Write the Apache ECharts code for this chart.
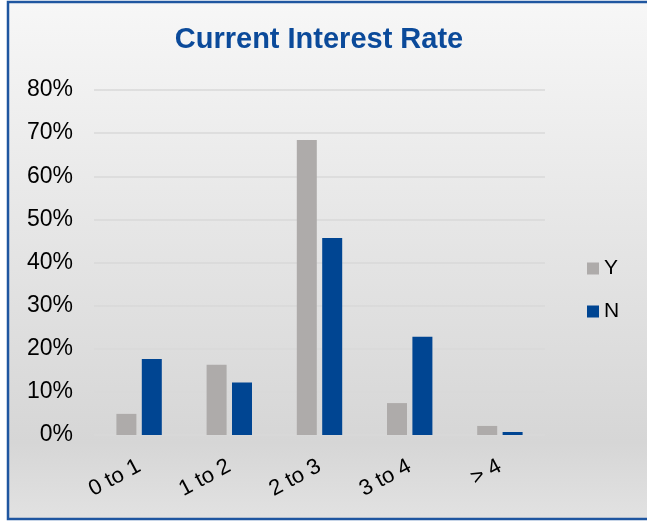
<!DOCTYPE html>
<html>
<head>
<meta charset="utf-8">
<script src="https://cdn.jsdelivr.net/npm/echarts@6/dist/echarts.min.js"></script>
<style>
html,body{margin:0;padding:0;background:#fff;}
#c{width:647px;height:527px;}
</style>
</head>
<body>
<div id="c"></div>
<script>
var categories = ['0 to 1', '1 to 2', '2 to 3', '3 to 4', '> 4'];
var seriesY = [0.049, 0.163, 0.684, 0.074, 0.021];
var seriesN = [0.176, 0.122, 0.457, 0.228, 0.007];
var yTicks = [0, 0.1, 0.2, 0.3, 0.4, 0.5, 0.6, 0.7, 0.8];

var chart = echarts.init(document.getElementById('c'), null, {renderer: 'canvas'});
var font = 'Liberation Sans, Arial, sans-serif';
chart.setOption({
  animation: false,
  backgroundColor: 'transparent',
  graphic: [{
    type: 'rect', z: -10, silent: true,
    shape: {x: 8, y: 2, width: 660, height: 517},
    style: {
      fill: new echarts.graphic.LinearGradient(0, 0, 0, 1, [
        {offset: 0, color: '#f7f7f7'},
        {offset: 0.85, color: '#d6d6d6'},
        {offset: 1, color: '#e2e2e2'}
      ]),
      stroke: '#1f56a0', lineWidth: 2.5
    }
  }],
  title: {
    text: 'Current Interest Rate',
    left: 314, top: 20, textAlign: 'center',
    textStyle: {fontFamily: font, fontSize: 29, fontWeight: 'bold', color: '#0b4a9a'}
  },
  legend: {
    orient: 'vertical',
    left: 582, top: 253,
    itemWidth: 12, itemHeight: 12, itemGap: 22,
    icon: 'rect',
    textStyle: {fontFamily: font, fontSize: 21, color: '#000'},
    data: ['Y', 'N']
  },
  grid: {left: 94, right: 102, top: 90, bottom: 92, containLabel: false},
  xAxis: {
    type: 'category',
    data: categories,
    axisLine: {show: false},
    axisTick: {show: false},
    axisLabel: {
      rotate: 28, margin: 30,
      fontFamily: font, fontSize: 22, color: '#000'
    }
  },
  yAxis: {
    type: 'value',
    min: 0, max: 0.8, interval: 0.1,
    axisLine: {show: false},
    axisTick: {show: false},
    splitLine: {lineStyle: {color: '#d9d9d9', width: 1.5}},
    axisLabel: {
      margin: 21,
      fontFamily: font, fontSize: 23, color: '#000',
      formatter: function (v) { return Math.round(v * 100) + '%'; }
    }
  },
  series: [
    {name: 'Y', type: 'bar', data: seriesY, barWidth: 20, barGap: '27%',
     itemStyle: {color: '#aeabaa'}},
    {name: 'N', type: 'bar', data: seriesN, barWidth: 20,
     itemStyle: {color: '#004592'}}
  ]
});
</script>
</body>
</html>
